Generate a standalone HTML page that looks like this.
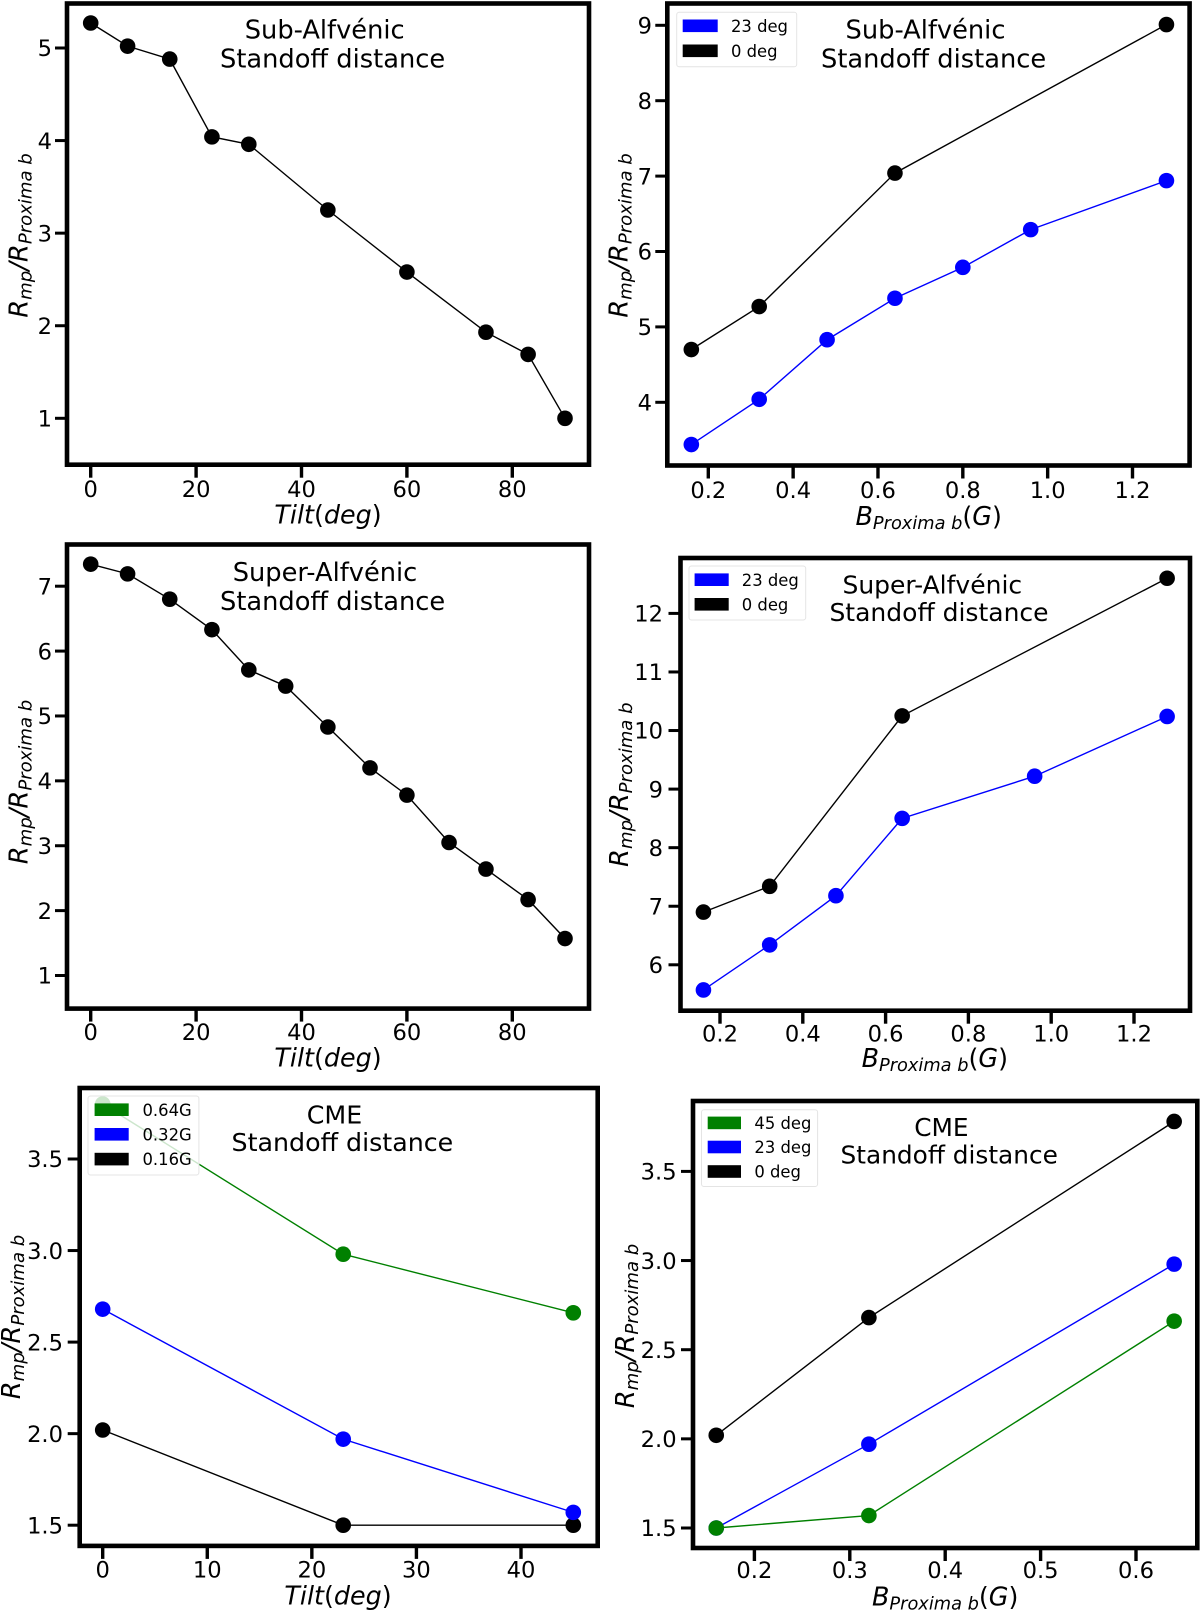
<!DOCTYPE html>
<html lang="en">
<head>
<meta charset="utf-8">
<title>Standoff distance panels</title>
<style>
html,body{margin:0;padding:0;background:#fff;}
svg{display:block;}
text{font-family:"DejaVu Sans","Liberation Sans",sans-serif;fill:#000;}
</style>
</head>
<body>
<svg id="figure" xmlns="http://www.w3.org/2000/svg" width="1200" height="1610" viewBox="0 0 1200 1610"></svg>
<script>
// ---- Data: panel 1, Sub-Alfvenic vs tilt
const subTiltX = [0, 7, 15, 23, 30, 45, 60, 75, 83, 90];
const subTiltY = [5.27, 5.02, 4.88, 4.04, 3.96, 3.25, 2.58, 1.93, 1.69, 1.0];
const subTiltXTicks = ['0', '20', '40', '60', '80'];
const subTiltYTicks = ['1', '2', '3', '4', '5'];
// ---- Data: panel 2, Sub-Alfvenic vs field
const subFieldBlackX = [0.16, 0.32, 0.64, 1.28];
const subFieldBlackY = [4.70, 5.27, 7.04, 9.01];
const subFieldBlueX = [0.16, 0.32, 0.48, 0.64, 0.80, 0.96, 1.28];
const subFieldBlueY = [3.44, 4.04, 4.83, 5.38, 5.79, 6.29, 6.94];
const subFieldXTicks = ['0.2', '0.4', '0.6', '0.8', '1.0', '1.2'];
const subFieldYTicks = ['4', '5', '6', '7', '8', '9'];
// ---- Data: panel 3, Super-Alfvenic vs tilt
const superTiltX = [0, 7, 15, 23, 30, 37, 45, 53, 60, 68, 75, 83, 90];
const superTiltY = [7.34, 7.19, 6.80, 6.33, 5.71, 5.46, 4.83, 4.20, 3.78, 3.05, 2.64, 2.17, 1.57];
const superTiltXTicks = ['0', '20', '40', '60', '80'];
const superTiltYTicks = ['1', '2', '3', '4', '5', '6', '7'];
// ---- Data: panel 4, Super-Alfvenic vs field
const superFieldBlackX = [0.16, 0.32, 0.64, 1.28];
const superFieldBlackY = [6.90, 7.34, 10.25, 12.60];
const superFieldBlueX = [0.16, 0.32, 0.48, 0.64, 0.96, 1.28];
const superFieldBlueY = [5.57, 6.34, 7.18, 8.50, 9.22, 10.24];
const superFieldXTicks = ['0.2', '0.4', '0.6', '0.8', '1.0', '1.2'];
const superFieldYTicks = ['6', '7', '8', '9', '10', '11', '12'];
// ---- Data: panel 5, CME vs tilt
const cmeTiltX = [0, 23, 45];
const cmeTiltGreenY = [3.80, 2.98, 2.66];
const cmeTiltBlueY = [2.68, 1.97, 1.57];
const cmeTiltBlackY = [2.02, 1.50, 1.50];
const cmeTiltXTicks = ['0', '10', '20', '30', '40'];
const cmeTiltYTicks = ['1.5', '2.0', '2.5', '3.0', '3.5'];
// ---- Data: panel 6, CME vs field
const cmeFieldX = [0.16, 0.32, 0.64];
const cmeFieldBlackY = [2.02, 2.68, 3.78];
const cmeFieldBlueY = [1.50, 1.97, 2.98];
const cmeFieldGreenY = [1.50, 1.57, 2.66];
const cmeFieldXTicks = ['0.2', '0.3', '0.4', '0.5', '0.6'];
const cmeFieldYTicks = ['1.5', '2.0', '2.5', '3.0', '3.5'];

const SVGNS = 'http://www.w3.org/2000/svg';
const figure = document.getElementById('figure');

function mk(parent, tag, attrs, text) {
  const el = document.createElementNS(SVGNS, tag);
  for (const k in attrs) el.setAttribute(k, attrs[k]);
  if (text !== undefined) el.textContent = text;
  parent.appendChild(el);
  return el;
}

// Math label pieces: [string, italic?, subscript?]
const yLabelParts = [['R', 1, 0], ['mp', 1, 1], ['/', 1, 0], ['R', 1, 0], ['Proxima b', 1, 1]];
const tiltLabelParts = [['Tilt', 1, 0], ['(', 0, 0], ['deg', 1, 0], [')', 0, 0]];
const fieldLabelParts = [['B', 1, 0], ['Proxima b', 1, 1], ['(', 0, 0], ['G', 1, 0], [')', 0, 0]];

function mathLabel(text, parts, size) {
  let wasSub = false;
  parts.forEach(function (p) {
    const attrs = { 'font-style': p[1] ? 'italic' : 'normal', 'font-size': p[2] ? size * 0.7 : size };
    if (p[2] && !wasSub) attrs.dy = 4;
    if (!p[2] && wasSub) attrs.dy = -4;
    mk(text, 'tspan', attrs, p[0]);
    wasSub = !!p[2];
  });
}

function drawPanel(cfg) {
  const g = mk(figure, 'g', {});
  
  

  const xScale = function (v) { return cfg.xA[1] + (v - cfg.xA[0]) * (cfg.xA[3] - cfg.xA[1]) / (cfg.xA[2] - cfg.xA[0]); };
  const yScale = function (v) { return cfg.yA[1] + (v - cfg.yA[0]) * (cfg.yA[3] - cfg.yA[1]) / (cfg.yA[2] - cfg.yA[0]); };
  const L = cfg.frame[0], R = cfg.frame[1], T = cfg.frame[2], B = cfg.frame[3];

  // series
  cfg.series.forEach(function (s) {
    const pts = s.x.map(function (v, i) { return xScale(v).toFixed(2) + ',' + yScale(s.y[i]).toFixed(2); }).join(' ');
    const line = mk(g, 'polyline', { points: pts, fill: 'none', stroke: s.color, 'stroke-width': 1.4 });
    
    
    s.x.forEach(function (v, i) {
      const dot = mk(g, 'circle', { cx: xScale(v).toFixed(2), cy: yScale(s.y[i]).toFixed(2), r: 7.8, fill: s.color });
      
      
    });
  });

  // frame
  const frame = mk(g, 'rect', { x: L, y: T, width: R - L, height: B - T, fill: 'none', stroke: '#000', 'stroke-width': 4.6 });
  
  

  // x ticks
  cfg.xTicks.forEach(function (label) {
    const x = xScale(parseFloat(label));
    const tick = mk(g, 'line', { x1: x, x2: x, y1: B, y2: B + 13, stroke: '#000', 'stroke-width': 3.4 });
    
    
    const t = mk(g, 'text', { x: x, y: cfg.xTickBase, 'text-anchor': 'middle', 'font-size': 22.6 }, label);
    
    
  });

  // y ticks
  cfg.yTicks.forEach(function (label) {
    const y = yScale(parseFloat(label));
    const tick = mk(g, 'line', { x1: L - 12, x2: L, y1: y, y2: y, stroke: '#000', 'stroke-width': 3 });
    
    
    const t = mk(g, 'text', { x: cfg.yLabelRight, y: y + 8.2, 'text-anchor': 'end', 'font-size': 22.6 }, label);
    
    
  });

  // axis titles
  const xt = mk(g, 'text', { x: cfg.xTitle[0], y: cfg.xTitle[1], 'text-anchor': 'middle' });
  
  
  mathLabel(xt, cfg.xParts, 25.4);

  const yt = mk(g, 'text', { 'text-anchor': 'middle', transform: 'translate(' + cfg.yTitle[0] + ' ' + cfg.yTitle[1] + ') rotate(-90)' });
  
  
  mathLabel(yt, yLabelParts, 25.8);

  // title lines
  cfg.title.forEach(function (line) {
    const t = mk(g, 'text', { x: line[1], y: line[2], 'text-anchor': 'middle', 'font-size': line[3] }, line[0]);
    
    
  });

  // legend
  if (cfg.legend) {
    const lg = mk(g, 'g', {});
    
    
    const b = cfg.legend.box;
    mk(lg, 'rect', { x: b[0], y: b[1], width: b[2] - b[0], height: b[3] - b[1], rx: 2.5, fill: '#fff', 'fill-opacity': 0.8, stroke: '#e4e4e4', 'stroke-width': 1 });
    cfg.legend.items.forEach(function (it) {
      const entry = mk(lg, 'g', {});
      
      
      mk(entry, 'rect', { x: cfg.legend.patchX[0], y: it[2], width: cfg.legend.patchX[1] - cfg.legend.patchX[0], height: 12.6, fill: it[1] });
      mk(entry, 'text', { x: cfg.legend.textX, y: it[2] + 12.4, 'font-size': 16.4 }, it[0]);
    });
  }
}

drawPanel({
  name: 'panel-sub-alfvenic-tilt',
  frame: [67, 589, 3.5, 464.7], xA: [0, 90.7, 80, 512.3], yA: [1, 418.3, 5, 48],
  xTicks: subTiltXTicks, yTicks: subTiltYTicks, xTickBase: 497, yLabelRight: 52,
  xTitle: [328, 523.5], xParts: tiltLabelParts, yTitle: [27.5, 235.5],
  title: [['Sub-Alfvénic', 324.7, 38.5, 25.7], ['Standoff distance', 332.6, 67.5, 25.7]],
  series: [{ label: 'black', color: '#000', x: subTiltX, y: subTiltY }]
});

drawPanel({
  name: 'panel-sub-alfvenic-field',
  frame: [667.3, 1189.6, 3.5, 465.5], xA: [0.2, 708.3, 1.2, 1132.5], yA: [4, 402.3, 9, 25.3],
  xTicks: subFieldXTicks, yTicks: subFieldYTicks, xTickBase: 498, yLabelRight: 652,
  xTitle: [928.7, 525], xParts: fieldLabelParts, yTitle: [627.5, 235.5],
  title: [['Sub-Alfvénic', 925.5, 38.7, 25.7], ['Standoff distance', 933.6, 67.5, 25.7]],
  series: [
    { label: 'blue-23-deg', color: '#0000ff', x: subFieldBlueX, y: subFieldBlueY },
    { label: 'black-0-deg', color: '#000', x: subFieldBlackX, y: subFieldBlackY }
  ],
  legend: {
    box: [676.7, 12.3, 796.7, 66.7], patchX: [682.7, 717.7], textX: 731,
    items: [['23 deg', '#0000ff', 19.5], ['0 deg', '#000', 44.5]]
  }
});

drawPanel({
  name: 'panel-super-alfvenic-tilt',
  frame: [67, 589, 544.5, 1008.6], xA: [0, 90.7, 80, 512.3], yA: [1, 975.5, 7, 586.2],
  xTicks: superTiltXTicks, yTicks: superTiltYTicks, xTickBase: 1040, yLabelRight: 52,
  xTitle: [328, 1066.5], xParts: tiltLabelParts, yTitle: [27.5, 782],
  title: [['Super-Alfvénic', 325, 581, 25.7], ['Standoff distance', 332.6, 610, 25.7]],
  series: [{ label: 'black', color: '#000', x: superTiltX, y: superTiltY }]
});

drawPanel({
  name: 'panel-super-alfvenic-field',
  frame: [680.5, 1190, 558, 1010.7], xA: [0.2, 720, 1.2, 1134], yA: [6, 964.8, 12, 613.4],
  xTicks: superFieldXTicks, yTicks: superFieldYTicks, xTickBase: 1041.7, yLabelRight: 663,
  xTitle: [934.8, 1067], xParts: fieldLabelParts, yTitle: [628, 784.7],
  title: [['Super-Alfvénic', 932.3, 593.4, 25], ['Standoff distance', 939, 621, 25]],
  series: [
    { label: 'blue-23-deg', color: '#0000ff', x: superFieldBlueX, y: superFieldBlueY },
    { label: 'black-0-deg', color: '#000', x: superFieldBlackX, y: superFieldBlackY }
  ],
  legend: {
    box: [689, 566, 805.7, 620], patchX: [694.6, 728.7], textX: 741.8,
    items: [['23 deg', '#0000ff', 573.4], ['0 deg', '#000', 598]]
  }
});

drawPanel({
  name: 'panel-cme-tilt',
  frame: [79.7, 597.7, 1088, 1545.9], xA: [0, 102.7, 40, 521], yA: [1.5, 1525.2, 3.5, 1159],
  xTicks: cmeTiltXTicks, yTicks: cmeTiltYTicks, xTickBase: 1577.6, yLabelRight: 63,
  xTitle: [338, 1604.5], xParts: tiltLabelParts, yTitle: [20, 1317],
  title: [['CME', 334.5, 1123.4, 25.3], ['Standoff distance', 342.4, 1151, 25.3]],
  series: [
    { label: 'black-0.16G', color: '#000', x: cmeTiltX, y: cmeTiltBlackY },
    { label: 'blue-0.32G', color: '#0000ff', x: cmeTiltX, y: cmeTiltBlueY },
    { label: 'green-0.64G', color: '#008000', x: cmeTiltX, y: cmeTiltGreenY }
  ],
  legend: {
    box: [88, 1096, 198.9, 1175], patchX: [94.6, 128.7], textX: 142.5,
    items: [['0.64G', '#008000', 1103.4], ['0.32G', '#0000ff', 1128], ['0.16G', '#000', 1152.8]]
  }
});

drawPanel({
  name: 'panel-cme-field',
  frame: [693, 1197.3, 1101, 1548], xA: [0.2, 754.4, 0.6, 1136], yA: [1.5, 1528, 3.5, 1171.4],
  xTicks: cmeFieldXTicks, yTicks: cmeFieldYTicks, xTickBase: 1578, yLabelRight: 676.6,
  xTitle: [945.2, 1605.5], xParts: fieldLabelParts, yTitle: [634, 1326],
  title: [['CME', 941.4, 1136, 24.8], ['Standoff distance', 949.2, 1163.4, 24.8]],
  series: [
    { label: 'black-0-deg', color: '#000', x: cmeFieldX, y: cmeFieldBlackY },
    { label: 'blue-23-deg', color: '#0000ff', x: cmeFieldX, y: cmeFieldBlueY },
    { label: 'green-45-deg', color: '#008000', x: cmeFieldX, y: cmeFieldGreenY }
  ],
  legend: {
    box: [701.5, 1109.7, 817.6, 1186.5], patchX: [707.7, 741], textX: 754.4,
    items: [['45 deg', '#008000', 1116.6], ['23 deg', '#0000ff', 1140.7], ['0 deg', '#000', 1165.2]]
  }
});
</script>
</body>
</html>
